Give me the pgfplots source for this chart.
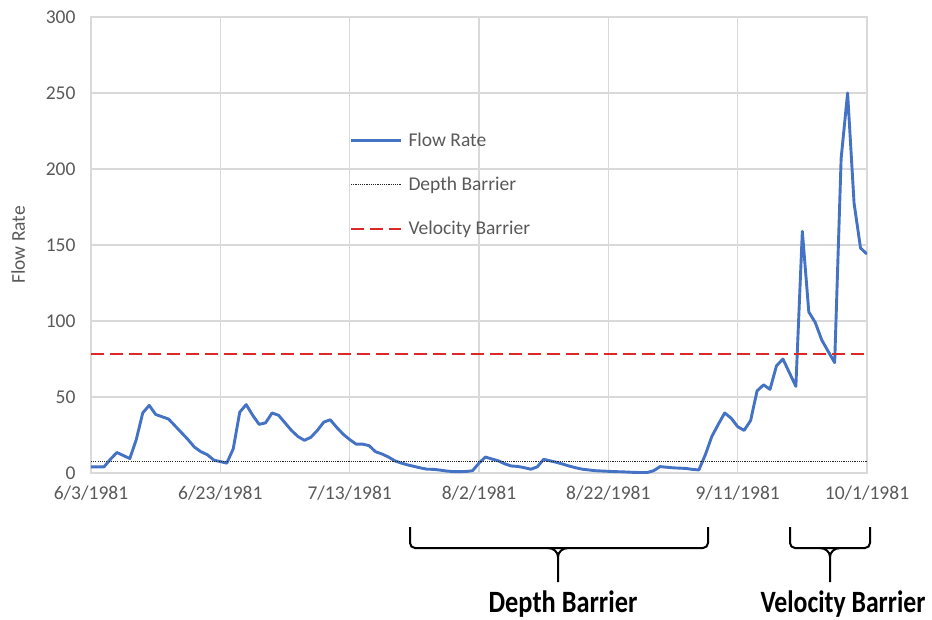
\documentclass[border=0pt]{standalone}
\usepackage{pgfplots}
\pgfplotsset{compat=1.18}
\usepackage{pgfplotstable}
\usepackage{fontspec}
\setmainfont{Carlito}
\definecolor{flowblue}{RGB}{68,114,196}
\definecolor{velred}{RGB}{220,40,40}
\definecolor{txtgray}{RGB}{89,89,89}
\definecolor{gridgray}{RGB}{217,217,217}

\pgfplotstableread{
day flow
0 4
1 4
2 4
3 9
4 13.5
5 11.5
6 9.5
7 22
8 39.5
9 44.5
10 38.5
11 37
12 35.5
13 31
14 26.5
15 22
16 17
17 14
18 12
19 8.5
20 7.5
21 6.5
22 16
23 40
24 45
25 38
26 32
27 33
28 39.5
29 38
30 33
31 28
32 24
33 21.5
34 23.5
35 28
36 33.5
37 35
38 30
39 25.5
40 22
41 19
42 19
43 18
44 14
45 12.5
46 10.5
47 8
48 6.5
49 5.3
50 4.3
51 3.3
52 2.5
53 2.4
54 1.9
55 1.3
56 0.9
57 0.9
58 1
59 1.5
60 6.5
61 10.5
62 9.2
63 8
64 6
65 4.6
66 4.3
67 3.5
68 2.5
69 4
70 9
71 8
72 7
73 5.8
74 4.5
75 3.4
76 2.5
77 2
78 1.5
79 1.3
80 1.1
81 0.9
82 0.8
83 0.6
84 0.4
85 0.3
86 0.3
87 1.5
88 4.2
89 3.8
90 3.4
91 3.2
92 3
93 2.4
94 2
95 12
96 24
97 32
98 39.5
99 36
100 30.5
101 28
102 34.5
103 54
104 58
105 55
106 70.5
107 75
108 66
109 57
110 159
111 106
112 99
113 87.5
114 80
115 72.6
116 207
117 250
118 177.5
119 148
120 144
}\flowdata

\begin{document}
\begin{tikzpicture}
\begin{axis}[
  scale only axis,
  width=776pt, height=456pt,
  xmin=0, xmax=120, ymin=0, ymax=300,
  xtick={0,20,40,60,80,100,120},
  xticklabels={6/3/1981,6/23/1981,7/13/1981,8/2/1981,8/22/1981,9/11/1981,10/1/1981},
  ytick={0,50,100,150,200,250,300},
  major tick length=0pt,
  grid=major,
  grid style={gridgray, line width=1.3pt},
  axis line style={gridgray, line width=1.5pt},
  /pgf/number format/assume math mode=true,
  tick label style={font=\fontsize{19.5}{23}\selectfont, text=txtgray},
  xticklabel shift=9pt,
  yticklabel shift=12pt,
  ylabel={Flow Rate},
  ylabel style={at={(axis description cs:-0.094,0.5)}, anchor=center, font=\fontsize{19.5}{23}\selectfont, text=txtgray},
  legend style={draw=none, fill=none, at={(axis description cs:0.333,0.752)}, anchor=north west,
    font=\fontsize{19.5}{23}\selectfont, text=txtgray, row sep=23pt, inner sep=0pt,
    nodes={inner sep=3pt}, /tikz/every odd column/.style={column sep=3pt}},
  legend cell align=left,
  legend image code/.code={\draw[#1] (0pt,0pt) -- (50pt,0pt);},
]
\addplot[flowblue, line width=2.9pt, line join=round] table[x=day, y=flow] {\flowdata};
\addlegendentry{Flow Rate}
\addplot[black!85, line width=1pt, dash pattern=on 1.1pt off 1.1pt] coordinates {(0,7.8) (120,7.8)};
\addlegendentry{Depth Barrier}
\addplot[velred, line width=2.2pt, dash pattern=on 13pt off 6pt] coordinates {(0,78.3) (120,78.3)};
\addlegendentry{Velocity Barrier}
\end{axis}
% braces
\begin{scope}[x=1pt, y=1pt, line width=2pt, black]
\draw[rounded corners=5pt] (319,-54) -- (319,-75) -- (617,-75) -- (617,-54);
\draw (457,-75) to[out=0,in=90] (467,-84) -- (467,-109);
\draw (477,-75) to[out=180,in=90] (467,-84);
\draw[rounded corners=5pt] (699,-54) -- (699,-75) -- (779,-75) -- (779,-54);
\draw (729,-75) to[out=0,in=90] (739,-84) -- (739,-109);
\draw (749,-75) to[out=180,in=90] (739,-84);
\node at (472,-131) {\scalebox{0.85}[1]{\fontsize{31}{31}\selectfont\bfseries Depth Barrier}};
\node at (752,-131) {\scalebox{0.83}[1]{\fontsize{31}{31}\selectfont\bfseries Velocity Barrier}};
\end{scope}
\pgfresetboundingbox
\path (-91pt,-146pt) rectangle (841pt,473pt);
\end{tikzpicture}
\end{document}
